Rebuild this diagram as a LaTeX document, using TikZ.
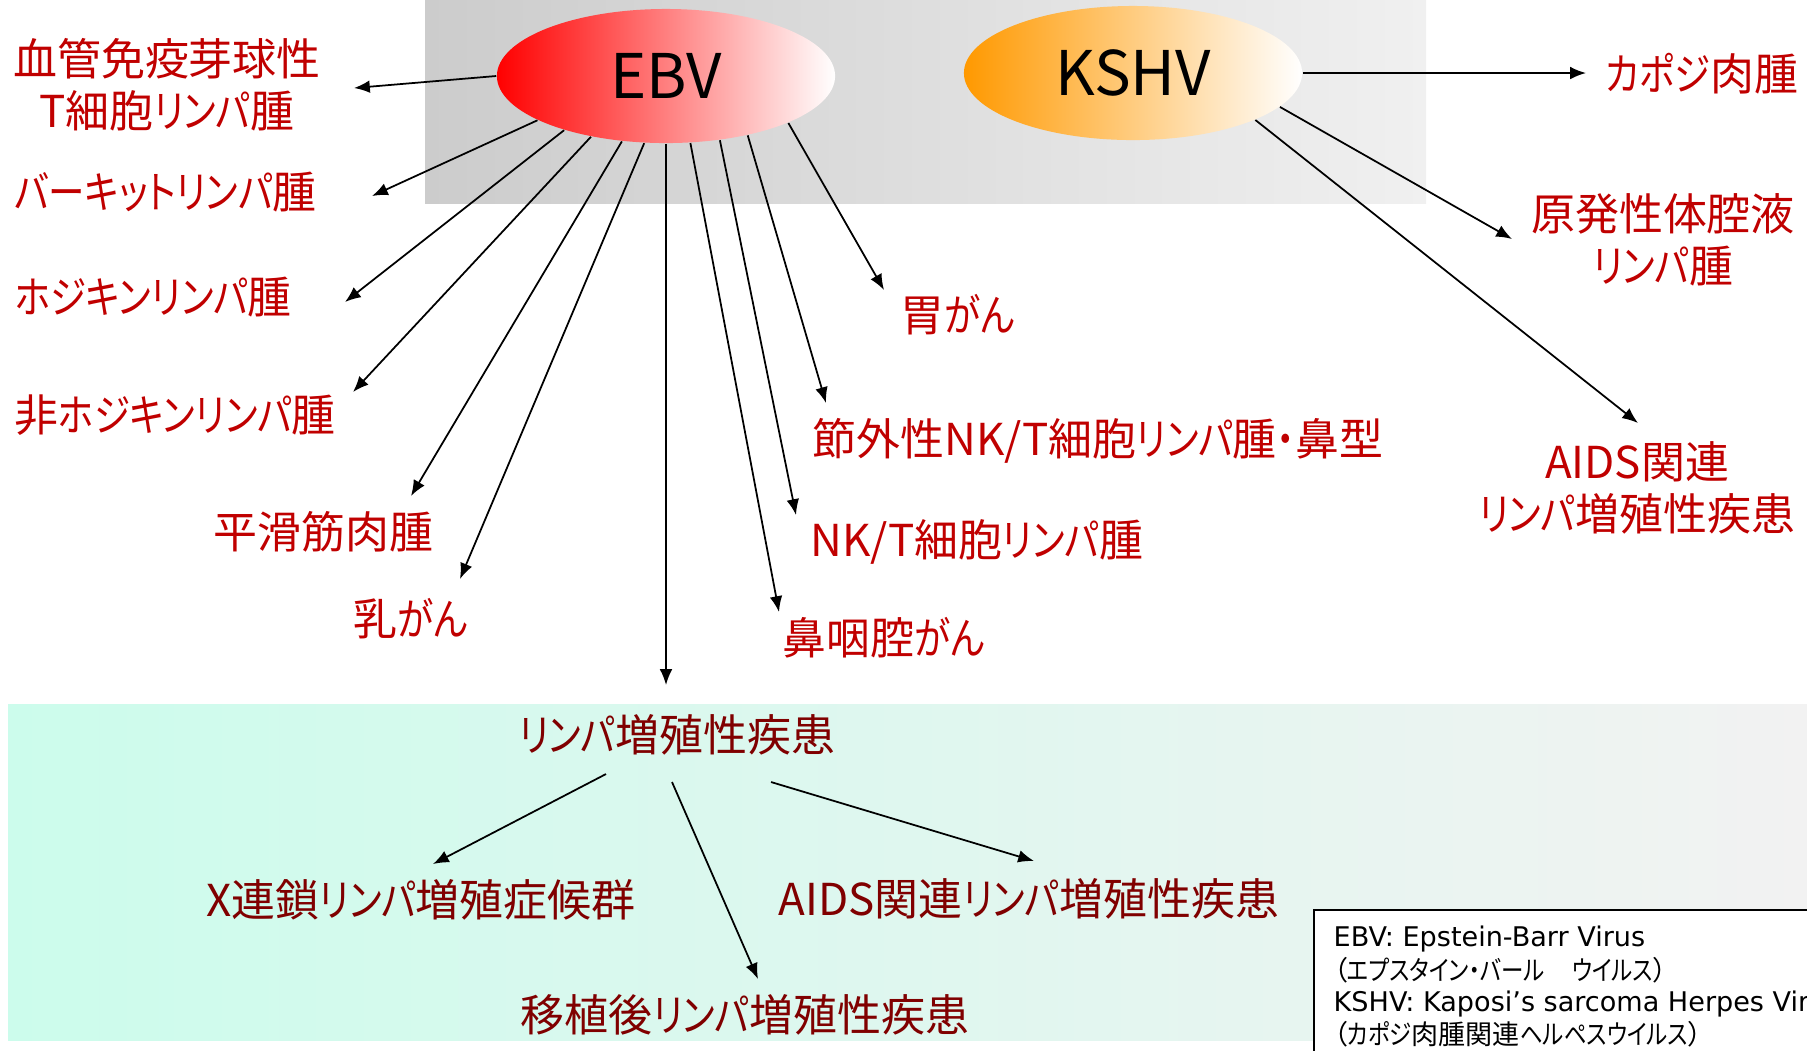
\documentclass[tikz,border=0pt]{standalone}
\usepackage{fontspec}
\setmainfont{Noto Sans CJK JP}[RawFeature=+palt]
\newfontfamily\legendfont{DejaVu Sans}
\newfontfamily\jpfont{Noto Sans CJK JP}[RawFeature=+palt]
\newfontfamily\kanafont{Noto Sans CJK JP}[RawFeature=+palt, FakeStretch=0.83]
\newcommand\kn[1]{{\kanafont #1}}
\usetikzlibrary{shapes.geometric,arrows.meta,calc}
\definecolor{lblred}{RGB}{192,0,0}
\definecolor{lblmaroon}{RGB}{128,0,0}
\definecolor{bgL}{RGB}{204,204,204}
\definecolor{bgR}{RGB}{240,240,240}
\definecolor{cyL}{RGB}{204,252,236}
\definecolor{cyR}{RGB}{242,242,242}
\definecolor{kshvor}{RGB}{255,153,0}
\begin{document}
\begin{tikzpicture}[x=0.01cm,y=-0.01cm,
  lbl/.style={text=lblred, font=\fontsize{12.5}{14.8}\selectfont, inner sep=0pt, align=center},
  lblw/.style={lbl, anchor=west},
  lbld/.style={lbl, text=lblmaroon},
  virus/.style={ellipse, minimum width=3.38cm, minimum height=1.34cm, inner sep=0pt, font=\fontsize{17.5}{20}\selectfont},
  arr/.style={-{Latex[length=4.5pt,width=3.6pt]}, line width=0.5pt},
  leg/.style={anchor=west, inner sep=0pt, font=\fontsize{7.7}{9}\selectfont}]
\useasboundingbox (0,0) rectangle (1807,1050);
\clip (0,0) rectangle (1807,1050);
% backgrounds
\shade[left color=bgL, right color=bgR] (425,0) rectangle (1426,203);
\shade[left color=cyL, right color=cyR] (8,704) rectangle (1807,1040);
% virus ellipses
\node[virus, left color=red, right color=white] (ebv) at (666,76) {EBV};
\node[virus, left color=kshvor, right color=white] (kshv) at (1133,73) {KSHV};
% EBV labels
\node[lbl] (aitl) at (167,85) {血管免疫芽球性\\T細胞\kn{リンパ}腫};
\node[lblw] (burkitt) at (14,192) {\kn{バーキットリンパ}腫};
\node[lblw] (hodgkin) at (14,297) {\kn{ホジキンリンパ}腫};
\node[lblw] (nhl) at (14,415) {非\kn{ホジキンリンパ}腫};
\node[lblw] (lms) at (213,532) {平滑筋肉腫};
\node[lblw] (breast) at (353,619) {乳\kn{がん}};
\node[lblw] (npc) at (782,638) {鼻咽腔\kn{がん}};
\node[lblw] (nkt) at (810,542) {NK/T細胞\kn{リンパ}腫};
\node[lblw] (enkt) at (812,441) {節外性NK/T細胞\kn{リンパ}腫\kn{・}鼻型};
\node[lblw] (gastric) at (900,315) {胃\kn{がん}};
% KSHV labels
\node[lblw] (ks) at (1605,74) {\kn{カポジ}肉腫};
\node[lbl] (pel) at (1663,240) {原発性体腔液\\\kn{リンパ}腫};
\node[lbl] (aidsl) at (1637,488) {AIDS関連\\\kn{リンパ}増殖性疾患};
% lymphoproliferative box
\node[lbld] (lpd) at (677,735) {\kn{リンパ}増殖性疾患};
\node[lbld] (xlp) at (421,900) {X連鎖\kn{リンパ}増殖症候群};
\node[lbld] (aidsb) at (1029,899) {AIDS関連\kn{リンパ}増殖性疾患};
\node[lbld] (ptld) at (745,1015) {移植後\kn{リンパ}増殖性疾患};
% arrow tips
\coordinate (t1) at (354,88);
\coordinate (t2) at (372,196);
\coordinate (t3) at (345,302);
\coordinate (t4) at (353,392);
\coordinate (t5) at (411,496);
\coordinate (t6) at (460,579);
\coordinate (t7) at (666,685);
\coordinate (t8) at (779,612);
\coordinate (t9) at (796,515);
\coordinate (t10) at (826,403);
\coordinate (t11) at (884,290);
\coordinate (u1) at (1586,73);
\coordinate (u2) at (1512,239);
\coordinate (u3) at (1638,423);
\coordinate (v1) at (433,864);
\coordinate (v2) at (758,979);
\coordinate (v3) at (1034,861);
% EBV arrows
\draw[arr] (ebv.180) -- (t1);
\draw[arr] (ebv.199) -- (t2);
\draw[arr] (ebv.208) -- (t3);
\draw[arr] (ebv.219) -- (t4);
\draw[arr] (ebv.236) -- (t5);
\draw[arr] (ebv.252) -- (t6);
\draw[arr] (ebv.270) -- (t7);
\draw[arr] (ebv.290) -- (t8);
\draw[arr] (ebv.310) -- (t9);
\draw[arr] (ebv.324) -- (t10);
\draw[arr] (ebv.339) -- (t11);
% KSHV arrows
\draw[arr] (kshv.0) -- (u1);
\draw[arr] (kshv.347) -- (u2);
\draw[arr] (kshv.339) -- (u3);
% LPD arrows
\draw[arr] ($(lpd)+(-71,39)$) -- (v1);
\draw[arr] ($(lpd)+(-5,47)$) -- (v2);
\draw[arr] ($(lpd)+(94,47)$) -- (v3);
% legend
\draw[fill=white, line width=0.6pt] (1314,910) rectangle (1840,1080);
\node[leg] (leg1) at (1333,939) {\legendfont EBV: Epstein-Barr Virus};
\node[leg] (leg2) at (1333,970) {\jpfont （\kn{エプスタイン・バール}　\kn{ウイルス}）};
\node[leg] (leg3) at (1333,1004) {\legendfont KSHV: Kaposi’s sarcoma Herpes Virus};
\node[leg] (leg4) at (1333,1034) {\jpfont （\kn{カポジ}肉腫関連\kn{ヘルペスウイルス}）};
\end{tikzpicture}
\end{document}
